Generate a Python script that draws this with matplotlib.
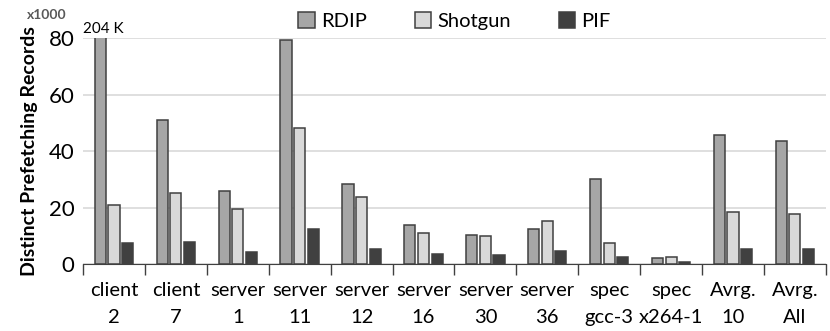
import matplotlib.pyplot as plt
import numpy as np

plt.rcParams["font.family"] = ["Lato", "DejaVu Sans"]

# data (x1000 records)
categories = ["client\n2", "client\n7", "server\n1", "server\n11", "server\n12",
              "server\n16", "server\n30", "server\n36", "spec\ngcc-3",
              "spec\nx264-1", "Avrg.\n10", "Avrg.\nAll"]
rdip = [204, 51.0, 25.8, 79.3, 28.3, 13.8, 10.3, 12.4, 30.1, 2.1, 45.7, 43.5]
shotgun = [20.9, 25.1, 19.5, 48.1, 23.7, 11.0, 9.9, 15.2, 7.4, 2.5, 18.4, 17.7]
pif = [7.4, 7.8, 4.2, 12.4, 5.3, 3.5, 3.2, 4.6, 2.5, 0.7, 5.3, 5.3]

series = [("RDIP", rdip, "#a6a6a6"),
          ("Shotgun", shotgun, "#d9d9d9"),
          ("PIF", pif, "#404040")]

fig = plt.figure(figsize=(8.3, 3.31), dpi=100)
ax = fig.add_axes([0.1, 0.202, 0.895, 0.683])

x = np.arange(len(categories))
width = 0.18
step = 0.22
for i, (name, vals, col) in enumerate(series):
    ax.bar(x + (i - 1) * step, vals, width, color=col, edgecolor="#404040",
           linewidth=1.1, label=name, zorder=3)

ax.set_ylim(0, 80)
ax.set_xlim(-0.5, len(categories) - 0.5)
ax.set_yticks([0, 20, 40, 60, 80])
ax.tick_params(axis="y", length=0, labelsize=16, pad=6)
ax.grid(axis="y", color="#d9d9d9", linewidth=1.2, zorder=0)

# group labels between boundary ticks
ax.set_xticks(np.arange(-0.5, len(categories)), minor=False)
ax.set_xticklabels([])
ax.tick_params(axis="x", which="major", length=8, width=1, color="#404040")
ax.set_xticks(x, minor=True)
ax.set_xticklabels(categories, minor=True, fontsize=14.5, linespacing=1.7)
ax.tick_params(axis="x", which="minor", length=0, pad=13)

for s in ["left", "right", "top"]:
    ax.spines[s].set_visible(False)
ax.spines["bottom"].set_color("#404040")

ax.set_ylabel("Distinct Prefetching Records", fontsize=14, fontweight="bold",
              labelpad=8)
fig.text(27 / 830, 1 - 21 / 331, "x1000", fontsize=10,
         fontweight="bold", color="#595959", ha="left", va="bottom")
ax.text(-0.5, 80.8, "204 K", fontsize=11, ha="left", va="bottom")

ax.legend(loc="lower center", bbox_to_anchor=(0.5, 1.0), ncol=3, frameon=False,
          fontsize=14.5, handlelength=0.8, handleheight=0.8, handletextpad=0.3,
          columnspacing=2.4, borderaxespad=0.0)

fig.savefig("out.png", dpi=100)
